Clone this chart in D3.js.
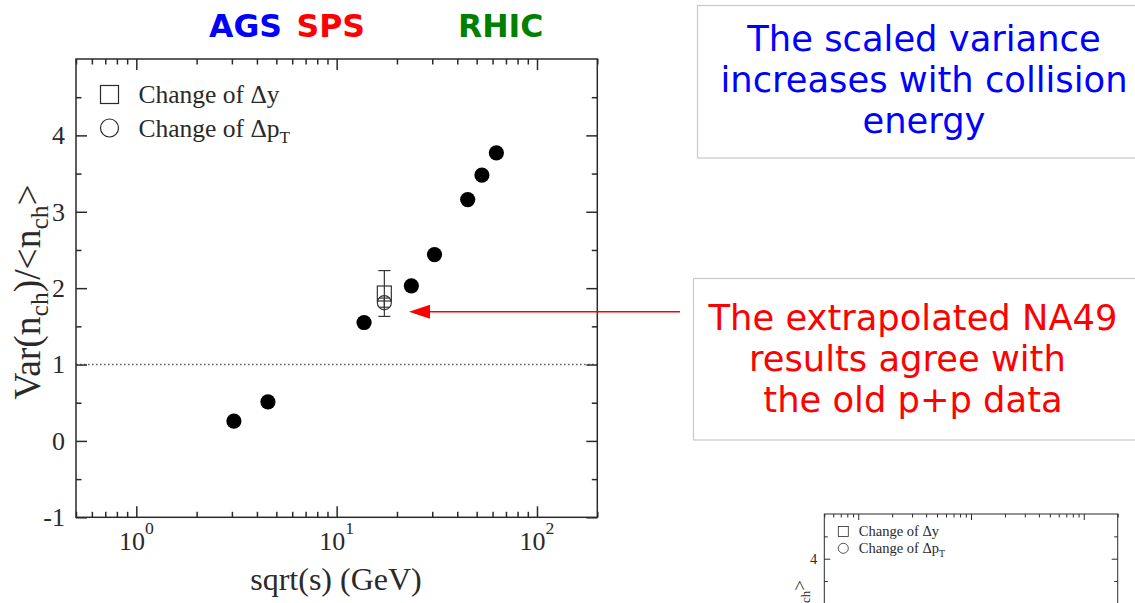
<!DOCTYPE html>
<html>
<head>
<meta charset="utf-8">
<script src="https://cdn.jsdelivr.net/npm/d3@7"></script>
<style>
  body { margin: 0; background: #fff; }
  svg { display: block; }
</style>
</head>
<body>
<svg id="chart" width="1135" height="603"></svg>
<script>
// p+p multiplicity fluctuations: scaled variance vs. collision energy
const energies       = [3.07, 4.54, 13.7, 23.6, 30.8, 45.1, 53.1, 62.7];
const scaledVariance = [0.26, 0.51, 1.55, 2.03, 2.44, 3.16, 3.48, 3.77];

// NA49 extrapolations at the SPS energy
const na49Energy  = 17.3;
const na49Values  = [1.93, 1.81];
const na49Errors  = [0.30, 0.06];
const na49Markers = ["square", "circle"];

const legendLabels = [["Change of Δy", ""], ["Change of Δp", "T"]];

const yTickValues  = [-1, 0, 1, 2, 3, 4];
const xDecades     = [1, 10, 100];
const xDecadeExps  = ["0", "1", "2"];

const accelerators      = ["AGS", "SPS", "RHIC"];
const acceleratorColors = ["#0000ff", "#ff0000", "#008000"];

const noteTop    = ["The scaled variance", "increases with collision", "energy"];
const noteBottom = ["The extrapolated NA49", "results agree with ", "the old p+p data"];

const svg = d3.select("#chart");
const SERIF = "'Liberation Serif', 'Times New Roman', serif";
const SANS  = "'DejaVu Sans', sans-serif";
const INK   = "#2a2a2a";

// Draws a boxed log-x / linear-y frame with inward ticks on all four sides
function drawFrame(g, x, y, opt) {
  const [x0, x1] = x.range();
  const [y0, y1] = y.range();
  const minorX = x.ticks().filter(v => !xDecades.some(d => Math.abs(v - d) < 1e-9));
  const minorY = d3.range(-0.5, 5, 1);

  const axes = [
    [d3.axisBottom, y0, xDecades, opt.major],
    [d3.axisBottom, y0, minorX, opt.minor],
    [d3.axisTop, y1, xDecades, opt.major],
    [d3.axisTop, y1, minorX, opt.minor]
  ];
  axes.forEach(([fn, pos, vals, len]) => {
    g.append("g")
      .attr("transform", `translate(0,${pos})`)
      .call(fn(x).tickValues(vals).tickSize(-len).tickFormat(""))
      .call(a => a.select(".domain").remove())
      .call(a => a.selectAll("line").attr("stroke", INK).attr("stroke-width", opt.sw));
  });
  const yAxes = [
    [d3.axisLeft, x0, yTickValues, opt.major],
    [d3.axisLeft, x0, minorY, opt.minor],
    [d3.axisRight, x1, yTickValues, opt.major],
    [d3.axisRight, x1, minorY, opt.minor]
  ];
  yAxes.forEach(([fn, pos, vals, len]) => {
    g.append("g")
      .attr("transform", `translate(${pos},0)`)
      .call(fn(y).tickValues(vals).tickSize(-len).tickFormat(""))
      .call(a => a.select(".domain").remove())
      .call(a => a.selectAll("line").attr("stroke", INK).attr("stroke-width", opt.sw));
  });

  g.append("rect")
    .attr("x", x0).attr("y", y1)
    .attr("width", x1 - x0).attr("height", y0 - y1)
    .attr("fill", "none").attr("stroke", INK).attr("stroke-width", opt.sw);

  // y tick labels (only those that fall inside the page)
  g.append("g").selectAll("text")
    .data(yTickValues.filter(v => y(v) < opt.pageBottom - 8))
    .join("text")
    .attr("x", x0 - opt.yLabelGap)
    .attr("y", d => y(d))
    .attr("dy", "0.34em")
    .attr("text-anchor", "end")
    .attr("font-family", SERIF)
    .attr("font-size", opt.tickFont)
    .attr("fill", INK)
    .text(d => d);

  // x tick labels as powers of ten
  if (y0 + opt.xLabelOffset < opt.pageBottom) {
    const xl = g.append("g").selectAll("text")
      .data(xDecades)
      .join("text")
      .attr("x", d => x(d))
      .attr("y", y0 + opt.xLabelOffset)
      .attr("text-anchor", "middle")
      .attr("font-family", SERIF)
      .attr("font-size", opt.tickFont)
      .attr("fill", INK);
    xl.append("tspan").text("10");
    xl.append("tspan")
      .attr("dy", -opt.tickFont * 0.62)
      .attr("font-size", opt.tickFont * 0.68)
      .text((d, i) => xDecadeExps[i]);
  }

  // legend
  const lg = g.append("g");
  const [lx, ly] = opt.legendPos;
  legendLabels.forEach((lab, i) => {
    const cy = ly + i * opt.legendStep;
    if (i === 0) {
      lg.append("rect")
        .attr("x", lx - opt.legendMark / 2).attr("y", cy - opt.legendMark / 2)
        .attr("width", opt.legendMark).attr("height", opt.legendMark)
        .attr("fill", "none").attr("stroke", INK).attr("stroke-width", opt.sw * 0.8);
    } else {
      lg.append("circle")
        .attr("cx", lx).attr("cy", cy).attr("r", opt.legendMark / 2)
        .attr("fill", "none").attr("stroke", INK).attr("stroke-width", opt.sw * 0.8);
    }
    const t = lg.append("text")
      .attr("x", lx + opt.legendTextGap)
      .attr("y", cy + opt.legendFont * 0.34)
      .attr("font-family", SERIF)
      .attr("font-size", opt.legendFont)
      .attr("fill", INK);
    t.append("tspan").text(lab[0]);
    if (lab[1]) {
      t.append("tspan")
        .attr("dy", opt.legendFont * 0.25)
        .attr("font-size", opt.legendFont * 0.68)
        .text(lab[1]);
    }
  });

  // y-axis title
  const yt = g.append("text")
    .attr("transform", `translate(${opt.yTitlePos[0]},${opt.yTitlePos[1]}) rotate(-90)`)
    .attr("text-anchor", opt.yTitleAnchor)
    .attr("font-family", SERIF)
    .attr("font-size", opt.titleFont)
    .attr("fill", INK);
  const sub = opt.titleFont * 0.22;
  yt.append("tspan").text("Var(n");
  yt.append("tspan").attr("dy", sub).attr("font-size", opt.titleFont * 0.68).text("ch");
  yt.append("tspan").attr("dy", -sub).text(")/<n");
  yt.append("tspan").attr("dy", sub).attr("font-size", opt.titleFont * 0.68).text("ch");
  yt.append("tspan").attr("dy", -sub).text(">");
}

// ---------- main panel ----------
const x = d3.scaleLog().domain([0.5, 200]).range([76, 597.3]);
const y = d3.scaleLinear().domain([-1, 5]).range([517.3, 59]);
const main = svg.append("g");

// Poisson reference line
main.append("line")
  .attr("x1", x(0.5)).attr("x2", x(200))
  .attr("y1", y(1)).attr("y2", y(1))
  .attr("stroke", "#666").attr("stroke-width", 1.6)
  .attr("stroke-dasharray", "1.6,2.4");

drawFrame(main, x, y, {
  pageBottom: 603,
  major: 11, minor: 5.5, sw: 1.5,
  tickFont: 26, yLabelGap: 11, xLabelOffset: 33,
  legendPos: [109.5, 94.5], legendStep: 33.5, legendMark: 18,
  legendTextGap: 29, legendFont: 25.5,
  titleFont: 37.5, yTitlePos: [40, 292], yTitleAnchor: "middle"
});

// x-axis title
main.append("text")
  .attr("x", 336).attr("y", 590)
  .attr("text-anchor", "middle")
  .attr("font-family", SERIF)
  .attr("font-size", 32)
  .attr("fill", INK)
  .text("sqrt(s) (GeV)");

// p+p data points
main.append("g").selectAll("circle")
  .data(energies.map((e, i) => [e, scaledVariance[i]]))
  .join("circle")
  .attr("cx", d => x(d[0]))
  .attr("cy", d => y(d[1]))
  .attr("r", 7.6)
  .attr("fill", "#000");

// NA49 points with error bars
const na49 = main.append("g").attr("stroke", "#333").attr("fill", "none").attr("stroke-width", 1.2);
na49Values.forEach((v, i) => {
  const cx = x(na49Energy);
  const e = na49Errors[i];
  const cap = i === 0 ? 6 : 5;
  na49.append("line").attr("x1", cx).attr("x2", cx).attr("y1", y(v + e)).attr("y2", y(v - e));
  na49.append("line").attr("x1", cx - cap).attr("x2", cx + cap).attr("y1", y(v + e)).attr("y2", y(v + e));
  na49.append("line").attr("x1", cx - cap).attr("x2", cx + cap).attr("y1", y(v - e)).attr("y2", y(v - e));
  if (na49Markers[i] === "square") {
    na49.append("rect").attr("x", cx - 7).attr("y", y(v) - 7.5).attr("width", 14).attr("height", 15);
  } else {
    na49.append("circle").attr("cx", cx).attr("cy", y(v)).attr("r", 7);
  }
});

// accelerator labels
const accX = [209, 296.5, 458];
svg.append("g").selectAll("text")
  .data(accelerators)
  .join("text")
  .attr("x", (d, i) => accX[i])
  .attr("y", 36.5)
  .attr("font-family", SANS)
  .attr("font-weight", "bold")
  .attr("font-size", 31.5)
  .attr("fill", (d, i) => acceleratorColors[i])
  .text(d => d);

// ---------- annotation boxes ----------
function noteBox(bx, by, bw, bh, lines, cx, firstBase, color) {
  const g = svg.append("g");
  g.append("rect")
    .attr("x", bx).attr("y", by).attr("width", bw).attr("height", bh)
    .attr("fill", "#fff").attr("stroke", "#c8c8c8").attr("stroke-width", 1.2);
  g.selectAll("text")
    .data(lines)
    .join("text")
    .attr("x", cx)
    .attr("y", (d, i) => firstBase + i * 41)
    .attr("text-anchor", "middle")
    .attr("font-family", SANS)
    .attr("font-size", 35.3)
    .attr("fill", color)
    .style("white-space", "pre")
    .text(d => d);
}
noteBox(697.5, 5.5, 460, 152.5, noteTop, 924, 51, "#0000ff");
noteBox(693.5, 278.5, 460, 161.5, noteBottom, 913, 330, "#ff0000");

// arrow pointing to the NA49 points
const arrowY = 311.7;
svg.append("line")
  .attr("x1", 680).attr("x2", 428).attr("y1", arrowY).attr("y2", arrowY)
  .attr("stroke", "#ff0000").attr("stroke-width", 1.5);
svg.append("path")
  .attr("d", `M409,${arrowY} L430,${arrowY - 7} L430,${arrowY + 7} Z`)
  .attr("fill", "#ff0000");

// ---------- small copy of the frame, lower right ----------
const xi = d3.scaleLog().domain([0.5, 200]).range([824.3, 1117.7]);
const yi = d3.scaleLinear().domain([-1, 5]).range([514 + 6 * 44.7, 514]);
const inset = svg.append("g");
drawFrame(inset, xi, yi, {
  pageBottom: 603,
  major: 6, minor: 3.5, sw: 1,
  tickFont: 14.5, yLabelGap: 7, xLabelOffset: 19,
  legendPos: [843.3, 531.5], legendStep: 16.8, legendMark: 10,
  legendTextGap: 15.5, legendFont: 14.5,
  titleFont: 19, yTitlePos: [806, 580], yTitleAnchor: "end"
});
</script>
</body>
</html>
